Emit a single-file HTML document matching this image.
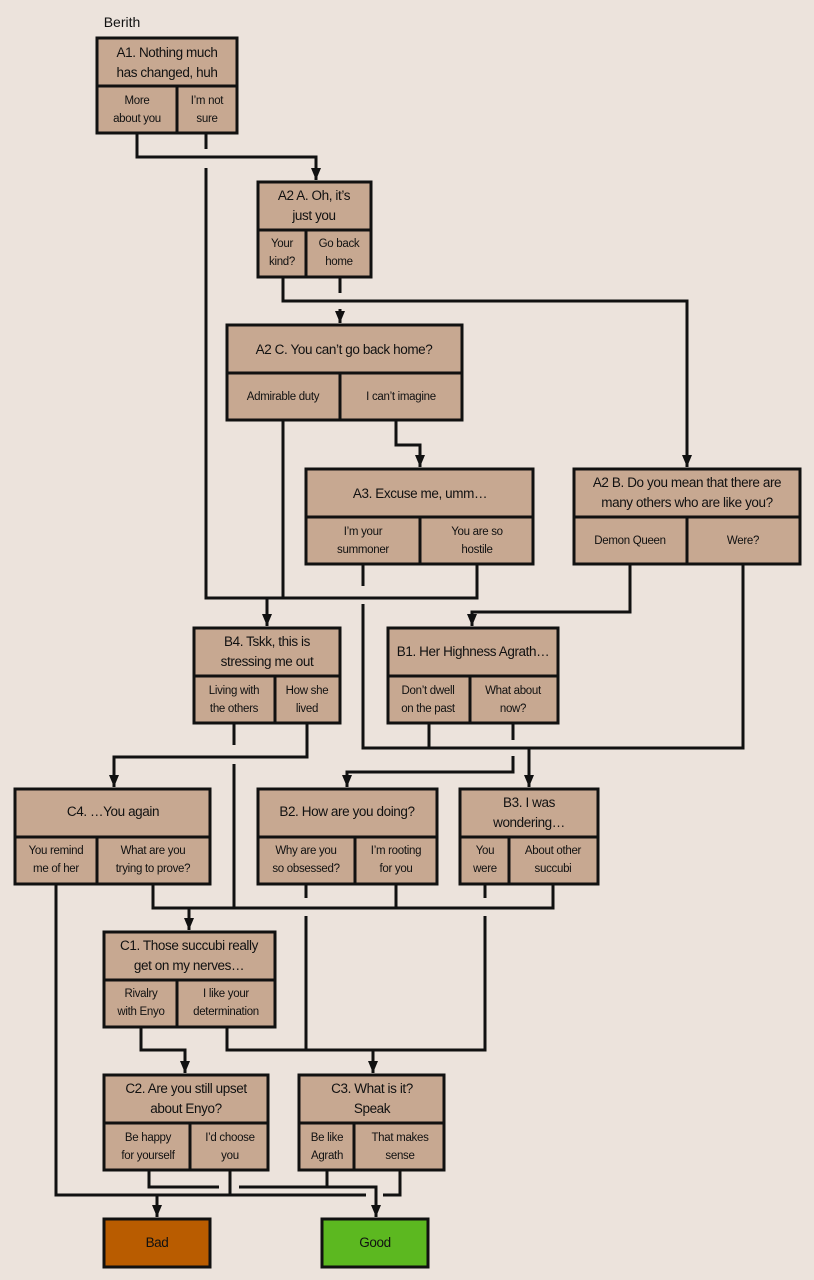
<!DOCTYPE html>
<html><head><meta charset="utf-8"><style>
html,body{margin:0;padding:0;background:#ece3dc;}
svg{display:block;}
text{font-family:"Liberation Sans",sans-serif;fill:#111;text-anchor:middle;}
.t{font-size:13.5px;letter-spacing:-0.4px;}
.o{font-size:11.5px;letter-spacing:-0.3px;}
.b{fill:#c7a891;stroke:#111;stroke-width:3;}
.l{fill:none;stroke:#111;stroke-width:3;}
</style></head><body>
<svg width="814" height="1280" viewBox="0 0 814 1280" xmlns="http://www.w3.org/2000/svg">
<defs>
<marker id="ar" viewBox="0 0 10 12" refX="5" refY="12" markerWidth="10" markerHeight="12" markerUnits="userSpaceOnUse" orient="0"><path d="M0,0 L10,0 L5,12 z" fill="#111"/></marker></defs>

<text x="122" y="27" style="font-size:14px">Berith</text>

<g class="l">
<polyline points="137,133 137,157 316,157 316,180" marker-end="url(#ar)"/>
<line x1="206" y1="133" x2="206" y2="149"/>
<polyline points="206,168 206,598 477,598 477,564"/>
<polyline points="267,598 267,626" marker-end="url(#ar)"/>
<line x1="283" y1="420" x2="283" y2="598"/>
<polyline points="283,277 283,301 687,301 687,467" marker-end="url(#ar)"/>
<line x1="340" y1="277" x2="340" y2="293"/>
<polyline points="340,309 340,323" marker-end="url(#ar)"/>
<polyline points="396,420 396,445 420,445 420,467" marker-end="url(#ar)"/>
<line x1="363" y1="564" x2="363" y2="586"/>
<polyline points="363,604 363,748 743,748 743,564"/>
<line x1="429" y1="723" x2="429" y2="748"/>
<polyline points="529,748 529,787" marker-end="url(#ar)"/>
<line x1="513" y1="723" x2="513" y2="740"/>
<polyline points="513,756 513,772 347,772 347,787" marker-end="url(#ar)"/>
<polyline points="630,564 630,612 472,612 472,626" marker-end="url(#ar)"/>
<line x1="234" y1="723" x2="234" y2="745"/>
<line x1="234" y1="764" x2="234" y2="908"/>
<polyline points="307,723 307,757 114,757 114,787" marker-end="url(#ar)"/>
<polyline points="153,884 153,908 553,908 553,884"/>
<line x1="396" y1="884" x2="396" y2="908"/>
<polyline points="189,908 189,930" marker-end="url(#ar)"/>
<line x1="306" y1="884" x2="306" y2="898"/>
<line x1="306" y1="916" x2="306" y2="1050"/>
<line x1="485" y1="884" x2="485" y2="898"/>
<polyline points="485,916 485,1050 227,1050 227,1027"/>
<polyline points="373,1050 373,1073" marker-end="url(#ar)"/>
<polyline points="141,1027 141,1050 185,1050 185,1073" marker-end="url(#ar)"/>
<polyline points="56,884 56,1195 366,1195"/>
<polyline points="157,1195 157,1217" marker-end="url(#ar)"/>
<polyline points="149,1170 149,1187 219,1187"/>
<line x1="230" y1="1170" x2="230" y2="1195"/>
<polyline points="239,1187 376,1187 376,1217" marker-end="url(#ar)"/>
<line x1="327" y1="1170" x2="327" y2="1187"/>
<polyline points="400,1170 400,1195 383,1195"/>
</g>

<g>
<rect class="b" x="97" y="38" width="140" height="95"/><path class="l" d="M97,86H237M177,86V133"/>
<text class="t" x="167" y="57">A1. Nothing much</text><text class="t" x="167" y="77">has changed, huh</text>
<text class="o" x="137" y="104">More</text><text class="o" x="137" y="122">about you</text>
<text class="o" x="207" y="104">I’m not</text><text class="o" x="207" y="122">sure</text>

<rect class="b" x="258" y="182" width="113" height="95"/><path class="l" d="M258,230H371M306,230V277"/>
<text class="t" x="314" y="200">A2 A. Oh, it’s</text><text class="t" x="314" y="220">just you</text>
<text class="o" x="282" y="247">Your</text><text class="o" x="282" y="265">kind?</text>
<text class="o" x="339" y="247">Go back</text><text class="o" x="339" y="265">home</text>

<rect class="b" x="227" y="325" width="235" height="95"/><path class="l" d="M227,373H462M340,373V420"/>
<text class="t" x="344" y="354">A2 C. You can’t go back home?</text>
<text class="o" x="283" y="400">Admirable duty</text>
<text class="o" x="401" y="400">I can’t imagine</text>

<rect class="b" x="306" y="469" width="227" height="95"/><path class="l" d="M306,517H533M420,517V564"/>
<text class="t" x="420" y="498">A3. Excuse me, umm…</text>
<text class="o" x="363" y="535">I’m your</text><text class="o" x="363" y="553">summoner</text>
<text class="o" x="477" y="535">You are so</text><text class="o" x="477" y="553">hostile</text>

<rect class="b" x="574" y="469" width="226" height="95"/><path class="l" d="M574,517H800M687,517V564"/>
<text class="t" x="687" y="487">A2 B. Do you mean that there are</text><text class="t" x="687" y="507">many others who are like you?</text>
<text class="o" x="630" y="544">Demon Queen</text>
<text class="o" x="743" y="544">Were?</text>

<rect class="b" x="194" y="628" width="146" height="95"/><path class="l" d="M194,676H340M275,676V723"/>
<text class="t" x="267" y="646">B4. Tskk, this is</text><text class="t" x="267" y="666">stressing me out</text>
<text class="o" x="234" y="694">Living with</text><text class="o" x="234" y="712">the others</text>
<text class="o" x="307" y="694">How she</text><text class="o" x="307" y="712">lived</text>

<rect class="b" x="388" y="628" width="170" height="95"/><path class="l" d="M388,676H558M470,676V723"/>
<text class="t" x="473" y="656">B1. Her Highness Agrath…</text>
<text class="o" x="428" y="694">Don’t dwell</text><text class="o" x="428" y="712">on the past</text>
<text class="o" x="513" y="694">What about</text><text class="o" x="513" y="712">now?</text>

<rect class="b" x="15" y="789" width="195" height="95"/><path class="l" d="M15,837H210M97,837V884"/>
<text class="t" x="113" y="816">C4. …You again</text>
<text class="o" x="56" y="854">You remind</text><text class="o" x="56" y="872">me of her</text>
<text class="o" x="153" y="854">What are you</text><text class="o" x="153" y="872">trying to prove?</text>

<rect class="b" x="258" y="789" width="179" height="95"/><path class="l" d="M258,837H437M355,837V884"/>
<text class="t" x="347" y="816">B2. How are you doing?</text>
<text class="o" x="306" y="854">Why are you</text><text class="o" x="306" y="872">so obsessed?</text>
<text class="o" x="396" y="854">I’m rooting</text><text class="o" x="396" y="872">for you</text>

<rect class="b" x="460" y="789" width="138" height="95"/><path class="l" d="M460,837H598M509,837V884"/>
<text class="t" x="529" y="807">B3. I was</text><text class="t" x="529" y="827">wondering…</text>
<text class="o" x="485" y="854">You</text><text class="o" x="485" y="872">were</text>
<text class="o" x="553" y="854">About other</text><text class="o" x="553" y="872">succubi</text>

<rect class="b" x="104" y="932" width="171" height="95"/><path class="l" d="M104,980H275M177,980V1027"/>
<text class="t" x="189" y="950">C1. Those succubi really</text><text class="t" x="189" y="970">get on my nerves…</text>
<text class="o" x="141" y="997">Rivalry</text><text class="o" x="141" y="1015">with Enyo</text>
<text class="o" x="226" y="997">I like your</text><text class="o" x="226" y="1015">determination</text>

<rect class="b" x="104" y="1075" width="164" height="95"/><path class="l" d="M104,1123H268M190,1123V1170"/>
<text class="t" x="186" y="1093">C2. Are you still upset</text><text class="t" x="186" y="1113">about Enyo?</text>
<text class="o" x="148" y="1141">Be happy</text><text class="o" x="148" y="1159">for yourself</text>
<text class="o" x="230" y="1141">I’d choose</text><text class="o" x="230" y="1159">you</text>

<rect class="b" x="299" y="1075" width="145" height="95"/><path class="l" d="M299,1123H444M354,1123V1170"/>
<text class="t" x="372" y="1093">C3. What is it?</text><text class="t" x="372" y="1113">Speak</text>
<text class="o" x="327" y="1141">Be like</text><text class="o" x="327" y="1159">Agrath</text>
<text class="o" x="400" y="1141">That makes</text><text class="o" x="400" y="1159">sense</text>

<rect x="104" y="1219" width="106" height="48" fill="#b95c00" stroke="#111" stroke-width="3"/>
<text class="t" x="157" y="1247">Bad</text>
<rect x="322" y="1219" width="106" height="48" fill="#5cb820" stroke="#111" stroke-width="3"/>
<text class="t" x="375" y="1247">Good</text>
</g>
</svg>
</body></html>
